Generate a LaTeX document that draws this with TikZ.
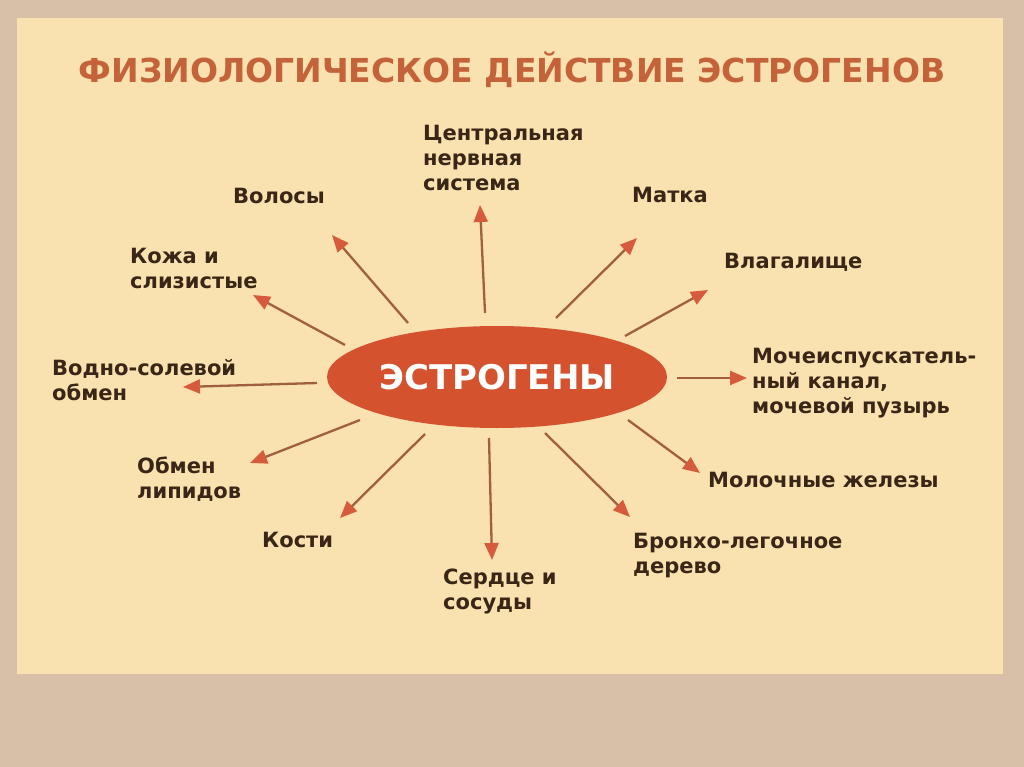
\documentclass[tikz,border=0pt]{standalone}
\usepackage{fontspec}
\setmainfont{DejaVu Sans}
\usetikzlibrary{arrows.meta,shapes.geometric}
\definecolor{bgcol}{HTML}{D8BFA8}
\definecolor{panelcol}{HTML}{F9E1B0}
\definecolor{titlecol}{HTML}{C4623A}
\definecolor{ovalcol}{HTML}{D4522E}
\definecolor{txtcol}{HTML}{3A2616}
\definecolor{linecol}{HTML}{A0603F}
\definecolor{tipcol}{HTML}{D65A3C}
\tikzset{
  lbl/.style={font=\bfseries\fontsize{21}{25}\selectfont, text=txtcol,
    align=left, anchor=north west, inner sep=0pt},
  ray/.style={draw=linecol, line width=2.3pt,
    -{Triangle[color=tipcol, length=17pt, width=14pt]}}
}
\begin{document}
\begin{tikzpicture}[x=1pt,y=-1pt]
      \fill[bgcol] (0,0) rectangle (1024,767);
      \fill[panelcol] (17,18) rectangle (1003,674);
      \node[font=\bfseries\fontsize{33}{38}\selectfont, text=titlecol,
        anchor=base, inner sep=0pt] (title) at (512,83)
        {ФИЗИОЛОГИЧЕСКОЕ ДЕЙСТВИЕ ЭСТРОГЕНОВ};
      \node[ellipse, fill=ovalcol, inner sep=0pt, minimum width=340pt,
        minimum height=102pt, text=white,
        font=\bfseries\fontsize{34}{40}\selectfont] (estr) at (497,377) {ЭСТРОГЕНЫ};
      % labels
      \draw
        (423,125) node[lbl] (cns){Центральная\\нервная\\система}
        (233,188) node[lbl] (hair){Волосы}
        (632,187) node[lbl] (uterus){Матка}
        (130,248) node[lbl] (skin){Кожа и\\слизистые}
        (724,253) node[lbl] (vagina){Влагалище}
        (52,359) node[lbl] (water){Водно-солевой\\обмен}
        (752,348) node[lbl] (urinary){Мочеиспускатель-\\ный канал,\\мочевой пузырь}
        (137,457) node[lbl] (lipid){Обмен\\липидов}
        (708,472) node[lbl] (breast){Молочные железы}
        (262,532) node[lbl] (bone){Кости}
        (633,533) node[lbl] (bronch){Бронхо-легочное\\дерево}
        (443,569) node[lbl] (heart){Сердце и\\сосуды};
      % ray ends
      \coordinate (cns-a) at (485,313);    \coordinate (cns-b) at (480,205);
      \coordinate (hair-a) at (408,323);   \coordinate (hair-b) at (332,235);
      \coordinate (uterus-a) at (556,318); \coordinate (uterus-b) at (637,238);
      \coordinate (skin-a) at (345,345);   \coordinate (skin-b) at (253,295);
      \coordinate (vagina-a) at (625,336); \coordinate (vagina-b) at (708,290);
      \coordinate (water-a) at (317,383);  \coordinate (water-b) at (183,387);
      \coordinate (urin-a) at (677,378);   \coordinate (urin-b) at (747,378);
      \coordinate (lipid-a) at (360,420);  \coordinate (lipid-b) at (250,463);
      \coordinate (breast-a) at (628,420); \coordinate (breast-b) at (700,473);
      \coordinate (bone-a) at (425,434);   \coordinate (bone-b) at (340,518);
      \coordinate (bronch-a) at (545,433); \coordinate (bronch-b) at (630,517);
      \coordinate (heart-a) at (489,438);  \coordinate (heart-b) at (492,560);
      \begin{scope}[ray]
        \draw (cns-a) to (cns-b);
        \draw (hair-a) to (hair-b);
        \draw (uterus-a) to (uterus-b);
        \draw (skin-a) to (skin-b);
        \draw (vagina-a) to (vagina-b);
        \draw (water-a) to (water-b);
        \draw (urin-a) to (urin-b);
        \draw (lipid-a) to (lipid-b);
        \draw (breast-a) to (breast-b);
        \draw (bone-a) to (bone-b);
        \draw (bronch-a) to (bronch-b);
        \draw (heart-a) to (heart-b);
      \end{scope}
\end{tikzpicture}
\end{document}
